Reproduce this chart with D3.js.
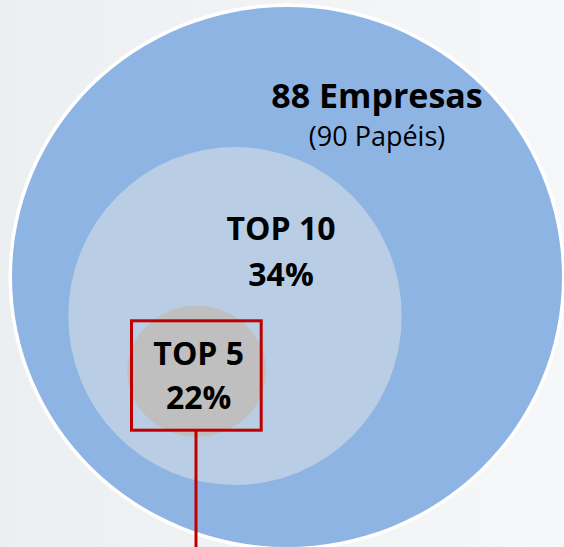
<!DOCTYPE html>
<html>
<head>
<meta charset="utf-8">
<script src="https://cdn.jsdelivr.net/npm/d3@7"></script>
<style>
  html, body { margin: 0; padding: 0; }
  body { width: 564px; height: 547px; overflow: hidden; }
  svg { display: block; }
  text { font-family: "Open Sans", Lato, sans-serif; fill: #000; }
</style>
</head>
<body>
<svg id="chart" width="564" height="547"></svg>
<script>
// Universe and concentration tiers
const companies = 88;
const papers = 90;
const tierNames = ["TOP 10", "TOP 5"];
const tierShares = [34, 22];

const W = 564, H = 547;
const svg = d3.select("#chart");

// soft grey backdrop
const defs = svg.append("defs");
const bg = defs.append("linearGradient").attr("id", "bg")
  .attr("x1", "0").attr("y1", "0").attr("x2", "1").attr("y2", "0");
bg.append("stop").attr("offset", "0").attr("stop-color", "#ECEFF1");
bg.append("stop").attr("offset", "1").attr("stop-color", "#F6F7F9");
svg.append("rect").attr("width", W).attr("height", H).attr("fill", "url(#bg)");

// nested bubbles: whole universe, top 10, top 5
const bubbles = [
  { key: "all",   cx: 287, cy: 277, rx: 275,   ry: 270, fill: "#8EB4E3" },
  { key: "top10", cx: 235, cy: 316, rx: 166.7, ry: 169, fill: "#B9CDE5" },
  { key: "top5",  cx: 196.7, cy: 371.3, rx: 69.5, ry: 65.5, fill: "#BFBFBF" }
];

// white rim round the outer bubble
svg.append("ellipse")
  .attr("cx", bubbles[0].cx).attr("cy", bubbles[0].cy)
  .attr("rx", bubbles[0].rx + 3.5).attr("ry", bubbles[0].ry + 3.5)
  .attr("fill", "#FFFFFF");

svg.selectAll("ellipse.bubble").data(bubbles).join("ellipse")
  .attr("class", "bubble")
  .attr("cx", d => d.cx).attr("cy", d => d.cy)
  .attr("rx", d => d.rx).attr("ry", d => d.ry)
  .attr("fill", d => d.fill);

const pct = d3.format("d");

// outer label
svg.append("text").attr("x", 377).attr("y", 108)
  .attr("text-anchor", "middle").attr("font-weight", 700).attr("font-size", 34)
  .text(`${companies} Empresas`);
svg.append("text").attr("x", 377).attr("y", 146)
  .attr("text-anchor", "middle").attr("font-weight", 400).attr("font-size", 27)
  .text(`(${papers} Papéis)`);

// tier labels
const tierPos = [
  { x: 281, y1: 240, y2: 285.7 },
  { x: 198.7, y1: 365, y2: 409.3 }
];
tierNames.forEach((name, i) => {
  const p = tierPos[i];
  svg.append("text").attr("x", p.x).attr("y", p.y1)
    .attr("text-anchor", "middle").attr("font-weight", 700).attr("font-size", 32)
    .text(name);
  svg.append("text").attr("x", p.x).attr("y", p.y2)
    .attr("text-anchor", "middle").attr("font-weight", 700).attr("font-size", 32)
    .text(pct(tierShares[i]) + "%");
});

// highlight box on the top-5 bubble with its leader line
svg.append("rect")
  .attr("x", 131.5).attr("y", 320.8)
  .attr("width", 129.7).attr("height", 109.4)
  .attr("fill", "none").attr("stroke", "#C00000").attr("stroke-width", 3);
svg.append("line")
  .attr("x1", 196).attr("x2", 196).attr("y1", 430).attr("y2", H)
  .attr("stroke", "#C00000").attr("stroke-width", 3);
</script>
</body>
</html>
